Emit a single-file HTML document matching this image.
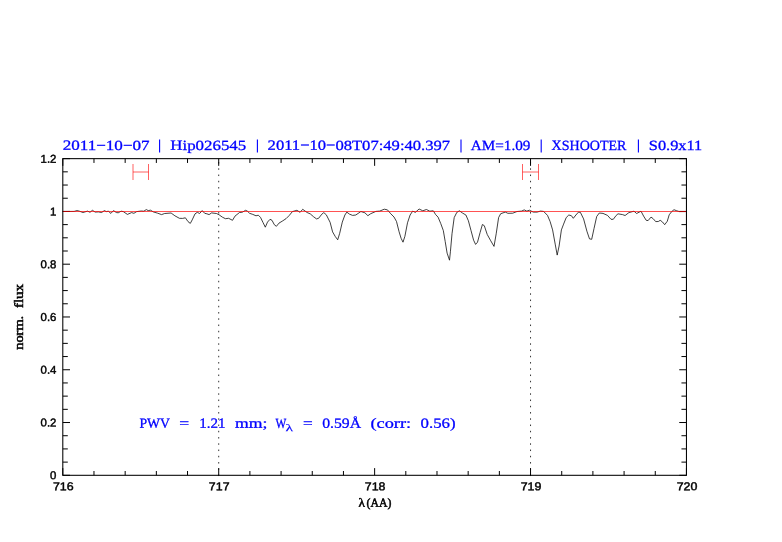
<!DOCTYPE html>
<html><head><meta charset="utf-8"><title>plot</title>
<style>
html,body{margin:0;padding:0;background:#fff;}
svg{display:block;}
text{font-family:"Liberation Serif",serif;}
.tk text{font-family:"Liberation Sans",sans-serif;font-size:11.4px;fill:#000;stroke:#000;stroke-width:0.45px;}
.ti text{font-size:14.0px;fill:#0000ff;stroke:#0000ff;stroke-width:0.28px;}
.an text{font-size:14px;fill:#0000ff;stroke:#0000ff;stroke-width:0.28px;}
.ax text{font-size:12.4px;fill:#000;stroke:#000;stroke-width:0.5px;}
</style></head>
<body>
<svg width="782" height="542" viewBox="0 0 782 542" style="will-change:transform">
<!-- dotted verticals -->
<g stroke="#000" stroke-width="0.8" stroke-dasharray="1.5 4.75" fill="none">
<path d="M218.71 476.05V158.65"/>
<path d="M530.54 476.05V158.65"/>
</g>
<!-- spectrum -->
<path d="M62.6 211.5 L74.1 211.4 L77.0 210.6 L79.2 211.1 L83.0 212.5 L87.5 211.1 L90.0 212.3 L92.4 210.3 L95.2 212.1 L98.4 211.9 L101.6 212.5 L104.4 210.6 L106.3 211.6 L108.3 211.2 L110.9 213.4 L113.5 210.6 L116.3 212.5 L118.2 212.8 L121.1 211.2 L123.3 211.6 L127.4 214.4 L131.6 212.6 L133.9 213.3 L136.7 211.6 L141.2 211.0 L143.8 211.2 L146.3 209.6 L148.2 210.6 L150.5 210.2 L153.3 211.9 L157.7 213.2 L161.5 214.6 L164.7 213.5 L171.1 213.0 L174.9 215.8 L179.4 218.3 L182.6 218.4 L185.4 217.8 L188.0 221.6 L190.3 223.4 L192.2 219.9 L195.0 213.9 L197.3 212.3 L199.6 213.5 L202.2 210.6 L204.7 213.3 L206.9 213.8 L209.1 214.6 L211.6 212.9 L216.5 213.5 L219.1 214.8 L222.3 217.1 L225.4 218.7 L228.6 218.3 L232.5 220.3 L235.0 216.1 L239.5 212.5 L242.3 212.2 L245.6 210.3 L247.3 211.1 L249.6 213.3 L252.8 214.4 L256.0 215.8 L258.3 215.2 L260.5 217.4 L263.0 222.5 L265.3 227.2 L267.5 222.1 L270.0 219.3 L272.0 220.3 L274.3 224.7 L276.4 226.3 L279.0 223.1 L282.2 221.2 L286.0 218.7 L289.2 215.5 L292.4 211.6 L296.9 210.3 L300.1 212.3 L302.7 209.3 L307.1 212.5 L310.3 213.9 L313.5 216.7 L316.5 218.9 L318.6 218.3 L321.8 214.2 L323.8 212.6 L326.3 214.8 L330.1 222.3 L332.6 231.9 L335.2 236.4 L337.7 239.8 L339.7 233.3 L342.3 222.1 L344.9 215.0 L346.8 212.1 L349.4 214.1 L352.6 215.4 L355.8 215.0 L360.9 211.5 L364.9 212.8 L367.9 215.7 L370.7 213.7 L375.9 211.4 L379.7 211.1 L384.3 209.2 L387.5 209.9 L390.7 213.7 L394.0 217.0 L396.5 221.5 L399.1 231.8 L401.1 238.3 L403.0 242.2 L404.9 236.3 L407.5 222.8 L410.1 215.0 L412.7 211.1 L415.3 212.4 L419.1 209.0 L422.8 210.8 L426.4 209.5 L429.8 211.2 L433.3 210.8 L435.5 214.4 L438.1 217.2 L440.7 223.4 L443.3 230.5 L445.2 241.5 L447.1 253.1 L449.5 260.2 L450.4 251.8 L452.0 233.8 L454.2 217.6 L456.8 212.4 L459.4 210.8 L462.6 213.1 L465.9 215.0 L468.4 220.8 L471.0 230.5 L473.6 240.2 L475.6 244.4 L477.5 242.2 L480.1 232.5 L482.4 224.5 L484.3 225.7 L487.2 234.4 L490.4 240.2 L494.0 246.4 L496.2 233.8 L498.6 217.6 L500.7 213.7 L505.3 212.1 L507.9 213.3 L512.7 213.2 L517.0 211.5 L521.6 211.1 L524.2 209.9 L526.8 211.1 L529.4 210.2 L533.3 212.1 L537.1 212.1 L540.4 211.1 L543.6 211.4 L547.5 215.4 L550.1 221.5 L552.6 229.9 L555.2 244.1 L557.2 255.1 L559.1 246.0 L561.4 229.9 L563.6 224.1 L566.2 217.6 L568.8 215.0 L571.4 215.7 L573.3 218.3 L575.9 215.0 L578.5 212.1 L580.4 212.4 L583.6 218.9 L586.9 231.2 L589.5 238.9 L591.7 239.3 L594.0 228.6 L596.7 216.5 L599.3 213.0 L603.0 213.4 L607.5 215.4 L611.0 219.3 L613.3 219.3 L616.1 215.5 L618.0 213.8 L622.5 214.6 L625.1 215.5 L628.9 212.6 L634.0 211.2 L636.6 213.5 L641.0 211.2 L643.6 216.1 L646.2 220.3 L648.1 220.6 L651.0 217.1 L653.2 218.7 L655.7 221.6 L658.3 221.5 L660.2 220.3 L662.4 221.9 L664.7 224.7 L667.3 221.2 L669.2 214.8 L671.7 211.6 L674.0 209.7 L676.2 210.6 L679.4 211.6 L685.8 211.6" fill="none" stroke="#000" stroke-width="0.75" stroke-linejoin="round"/>
<!-- error bars -->
<g stroke="#ff0000" stroke-opacity="0.62" stroke-width="1" fill="none">
<path d="M133 164V180M148.5 164V180M133 172H148.5"/>
<path d="M522.5 164V180M538.5 164V180M522.5 172H538.5"/>
</g>
<!-- frame + ticks -->
<path d="M62.80 475.30v-7.2M62.80 158.65v7.2M93.98 475.30v-4.3M93.98 158.65v4.3M125.17 475.30v-4.3M125.17 158.65v4.3M156.35 475.30v-4.3M156.35 158.65v4.3M187.53 475.30v-4.3M187.53 158.65v4.3M218.71 475.30v-7.2M218.71 158.65v7.2M249.90 475.30v-4.3M249.90 158.65v4.3M281.08 475.30v-4.3M281.08 158.65v4.3M312.26 475.30v-4.3M312.26 158.65v4.3M343.44 475.30v-4.3M343.44 158.65v4.3M374.63 475.30v-7.2M374.63 158.65v7.2M405.81 475.30v-4.3M405.81 158.65v4.3M436.99 475.30v-4.3M436.99 158.65v4.3M468.17 475.30v-4.3M468.17 158.65v4.3M499.36 475.30v-4.3M499.36 158.65v4.3M530.54 475.30v-7.2M530.54 158.65v7.2M561.72 475.30v-4.3M561.72 158.65v4.3M592.90 475.30v-4.3M592.90 158.65v4.3M624.09 475.30v-4.3M624.09 158.65v4.3M655.27 475.30v-4.3M655.27 158.65v4.3M686.45 475.30v-7.2M686.45 158.65v7.2M62.80 475.30h7.2M686.45 475.30h-7.2M62.80 462.11h5.0M686.45 462.11h-5.0M62.80 448.91h5.0M686.45 448.91h-5.0M62.80 435.72h5.0M686.45 435.72h-5.0M62.80 422.53h7.2M686.45 422.53h-7.2M62.80 409.33h5.0M686.45 409.33h-5.0M62.80 396.14h5.0M686.45 396.14h-5.0M62.80 382.94h5.0M686.45 382.94h-5.0M62.80 369.75h7.2M686.45 369.75h-7.2M62.80 356.56h5.0M686.45 356.56h-5.0M62.80 343.36h5.0M686.45 343.36h-5.0M62.80 330.17h5.0M686.45 330.17h-5.0M62.80 316.98h7.2M686.45 316.98h-7.2M62.80 303.78h5.0M686.45 303.78h-5.0M62.80 290.59h5.0M686.45 290.59h-5.0M62.80 277.39h5.0M686.45 277.39h-5.0M62.80 264.20h7.2M686.45 264.20h-7.2M62.80 251.01h5.0M686.45 251.01h-5.0M62.80 237.81h5.0M686.45 237.81h-5.0M62.80 224.62h5.0M686.45 224.62h-5.0M62.80 211.43h7.2M686.45 211.43h-7.2M62.80 198.23h5.0M686.45 198.23h-5.0M62.80 185.04h5.0M686.45 185.04h-5.0M62.80 171.84h5.0M686.45 171.84h-5.0M62.80 158.65h7.2M686.45 158.65h-7.2" stroke="#000" stroke-width="1" fill="none"/>
<!-- unity line -->
<path d="M62.8 211.5H686.5" stroke="#ff0000" stroke-opacity="0.68" stroke-width="1" fill="none"/>
<rect x="62.8" y="158.65" width="623.65" height="316.65" fill="none" stroke="#000" stroke-width="1.05"/>
<g class="tk">
<text x="63.3" y="490.3" text-anchor="middle" textLength="20.7" lengthAdjust="spacingAndGlyphs" transform="rotate(0.03 63.3 490.3)">716</text><text x="219.2" y="490.3" text-anchor="middle" textLength="20.7" lengthAdjust="spacingAndGlyphs" transform="rotate(0.03 219.2 490.3)">717</text><text x="375.1" y="490.3" text-anchor="middle" textLength="20.7" lengthAdjust="spacingAndGlyphs" transform="rotate(0.03 375.1 490.3)">718</text><text x="531.0" y="490.3" text-anchor="middle" textLength="20.7" lengthAdjust="spacingAndGlyphs" transform="rotate(0.03 531.0 490.3)">719</text><text x="687.0" y="490.3" text-anchor="middle" textLength="20.7" lengthAdjust="spacingAndGlyphs" transform="rotate(0.03 687.0 490.3)">720</text>
<text x="56.4" y="479.35" text-anchor="end" transform="rotate(0.03 50 479.35)">0</text><text x="56.4" y="426.58" text-anchor="end" transform="rotate(0.03 50 426.58)">0.2</text><text x="56.4" y="373.80" text-anchor="end" transform="rotate(0.03 50 373.80)">0.4</text><text x="56.4" y="321.03" text-anchor="end" transform="rotate(0.03 50 321.03)">0.6</text><text x="56.4" y="268.25" text-anchor="end" transform="rotate(0.03 50 268.25)">0.8</text><text x="56.4" y="215.48" text-anchor="end" transform="rotate(0.03 50 215.48)">1</text><text x="56.4" y="162.70" text-anchor="end" transform="rotate(0.03 50 162.70)">1.2</text>
</g>
<g class="ax">
<text x="358.4" y="506.8" transform="rotate(0.03 361 506.8)" textLength="6.4" lengthAdjust="spacingAndGlyphs">λ</text>
<text x="366.6" y="506.8" transform="rotate(0.03 379 506.8)" textLength="24.8" lengthAdjust="spacingAndGlyphs">(AA)</text>
<text transform="translate(22.9 349.8) rotate(-90)" textLength="34" lengthAdjust="spacingAndGlyphs">norm.</text>
<text transform="translate(22.9 308.1) rotate(-90)" textLength="24.2" lengthAdjust="spacingAndGlyphs">flux</text>
</g>
<g class="ti">
<text x="62.7" y="149.9" transform="rotate(0.03 106.1 149.9)" textLength="86.9" lengthAdjust="spacingAndGlyphs">2011−10−07</text><text x="170.3" y="149.9" transform="rotate(0.03 208.2 149.9)" textLength="75.9" lengthAdjust="spacingAndGlyphs">Hip026545</text><text x="267.6" y="149.9" transform="rotate(0.03 358.9 149.9)" textLength="182.5" lengthAdjust="spacingAndGlyphs">2011−10−08T07:49:40.397</text><text x="470.8" y="149.9" transform="rotate(0.03 500.6 149.9)" textLength="59.6" lengthAdjust="spacingAndGlyphs">AM=1.09</text><text x="551.6" y="149.9" transform="rotate(0.03 589.0 149.9)" textLength="74.9" lengthAdjust="spacingAndGlyphs">XSHOOTER</text><text x="648.8" y="149.9" transform="rotate(0.03 675.5 149.9)" textLength="53.4" lengthAdjust="spacingAndGlyphs">S0.9x11</text>
<path d="M159.6 139.6V152.6M257.4 139.6V152.6M461.0 139.6V152.6M541.2 139.6V152.6M638.4 139.6V152.6" stroke="#0000ff" stroke-width="1.1" fill="none"/>
</g>
<g class="an">
<text x="139.4" y="427.7" transform="rotate(0.03 154.7 427.7)" textLength="30.6" lengthAdjust="spacingAndGlyphs">PWV</text><text x="179.2" y="427.7" transform="rotate(0.03 184.1 427.7)" textLength="9.9" lengthAdjust="spacingAndGlyphs">=</text><text x="199.2" y="427.7" transform="rotate(0.03 212.3 427.7)" textLength="26.2" lengthAdjust="spacingAndGlyphs">1.21</text><text x="235.0" y="427.7" transform="rotate(0.03 251.2 427.7)" textLength="32.4" lengthAdjust="spacingAndGlyphs">mm;</text><text x="275.6" y="427.7" transform="rotate(0.03 281.0 427.7)" textLength="10.8" lengthAdjust="spacingAndGlyphs">W</text><text x="303.1" y="427.7" transform="rotate(0.03 307.9 427.7)" textLength="9.7" lengthAdjust="spacingAndGlyphs">=</text><text x="322.2" y="427.7" transform="rotate(0.03 341.6 427.7)" textLength="38.9" lengthAdjust="spacingAndGlyphs">0.59Å</text><text x="370.5" y="427.7" transform="rotate(0.03 390.8 427.7)" textLength="40.6" lengthAdjust="spacingAndGlyphs">(corr:</text><text x="420.6" y="427.7" transform="rotate(0.03 438.1 427.7)" textLength="35.0" lengthAdjust="spacingAndGlyphs">0.56)</text>
<text x="285.6" y="431.2" transform="rotate(0.03 289 431.2)" style="font-size:10.2px;stroke-width:0.15px" textLength="7.6" lengthAdjust="spacingAndGlyphs">λ</text>
</g>
</svg>
</body></html>
